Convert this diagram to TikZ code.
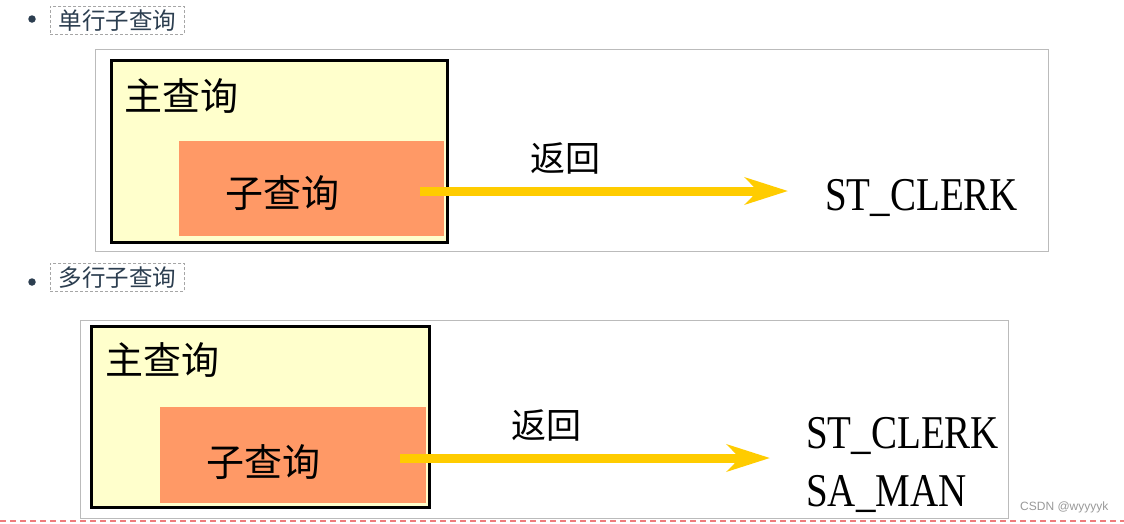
\documentclass[tikz,border=0pt]{standalone}
\usepackage{fontspec}
\setmainfont{Liberation Serif}
\newfontfamily\cjk{Noto Sans CJK SC}
\newfontfamily\wmfont{Liberation Sans}
\usetikzlibrary{arrows.meta}
\definecolor{paleyellow}{HTML}{FFFFCC}
\definecolor{subor}{HTML}{FF9966}
\definecolor{arrowyel}{HTML}{FFCC00}
\definecolor{slate}{HTML}{2C3E50}
\definecolor{framegray}{HTML}{BBBBBB}
\definecolor{redline}{HTML}{EE7B7B}
\tikzset{
  frame/.style={draw=framegray, line width=1pt, fill=white, inner sep=0pt},
  mainbox/.style={draw=black, line width=3pt, fill=paleyellow, inner sep=0pt},
  subbox/.style={fill=subor, inner sep=0pt},
  bigcjk/.style={font=\cjk\fontsize{38}{44}\selectfont, inner sep=0pt, text=black},
  retlabel/.style={font=\cjk\fontsize{35}{40}\selectfont, inner sep=0pt, text=black},
  result/.style={font=\fontsize{47}{52}\selectfont, inner sep=0pt, text=black},
  retarrow/.style={draw=arrowyel, line width=9pt, -{Stealth[length=43pt, width=27pt, inset=13pt]}},
  bulletdot/.style={circle, fill=slate, inner sep=0pt, minimum size=7.5pt},
  bulletlabel/.style={draw=gray!70, dashed, dash pattern=on 3pt off 2pt, line width=0.8pt,
    font=\cjk\fontsize{23.5}{27}\selectfont, text=slate, inner sep=0pt,
    minimum width=134pt, minimum height=28pt},
}
\begin{document}
\begin{tikzpicture}[x=1pt, y=-1pt]
\useasboundingbox (0,0) rectangle (1124,523);
\fill[white] (0,0) rectangle (1124,523);

% ---------- top: single-row ----------
\node[bulletdot] (b1) at (32,19) {};
\node[bulletlabel, anchor=north west] (l1) at (50,6) {单行子查询};

\node[frame, anchor=north west, minimum width=953pt, minimum height=202pt] (f1) at (95,49) {};
\node[mainbox, anchor=north west, minimum width=336pt, minimum height=182pt] (m1) at (110,59) {};
\node[subbox, anchor=north west, minimum width=265pt, minimum height=95pt] (s1) at (179,141) {};
\node[bigcjk, anchor=west] (mt1) at (124,96) {主查询};
\node[bigcjk] (st1) at (282,193) {子查询};
\node[retlabel] (rl1) at (565,158) {返回};
\node[result, anchor=west] (r1) at (825,198) {\scalebox{0.83}[1]{ST\_CLERK}};
\coordinate (a1) at (420,191);
\coordinate (e1) at (788,191);
\draw[retarrow] (a1) -- (e1);

% ---------- bottom: multi-row ----------
\node[bulletdot] (b2) at (32,282) {};
\node[bulletlabel, anchor=north west] (l2) at (50,263) {多行子查询};

\node[frame, anchor=north west, minimum width=928pt, minimum height=198pt] (f2) at (80,320) {};
\node[mainbox, anchor=north west, minimum width=338pt, minimum height=181pt] (m2) at (90,325) {};
\node[subbox, anchor=north west, minimum width=266pt, minimum height=96pt] (s2) at (160,407) {};
\node[bigcjk, anchor=west] (mt2) at (105,360) {主查询};
\node[bigcjk] (st2) at (263,462) {子查询};
\node[retlabel] (rl2) at (546,425) {返回};
\node[result, anchor=west] (r2a) at (806,436) {\scalebox{0.83}[1]{ST\_CLERK}};
\node[result, anchor=west] (r2b) at (806,494) {\scalebox{0.83}[1]{SA\_MAN}};
\coordinate (a2) at (400,458);
\coordinate (e2) at (770,458);
\draw[retarrow] (a2) -- (e2);

\node[font=\wmfont\fontsize{12}{14}\selectfont, text=gray!80, anchor=west, inner sep=0pt] (wm) at (1020,507) {CSDN @wyyyyk};

\coordinate (rlL) at (0,521);
\coordinate (rlR) at (1124,521);
\draw[draw=redline, line width=1.3pt, dash pattern=on 6pt off 4pt] (rlL) -- (rlR);
\end{tikzpicture}
\end{document}
